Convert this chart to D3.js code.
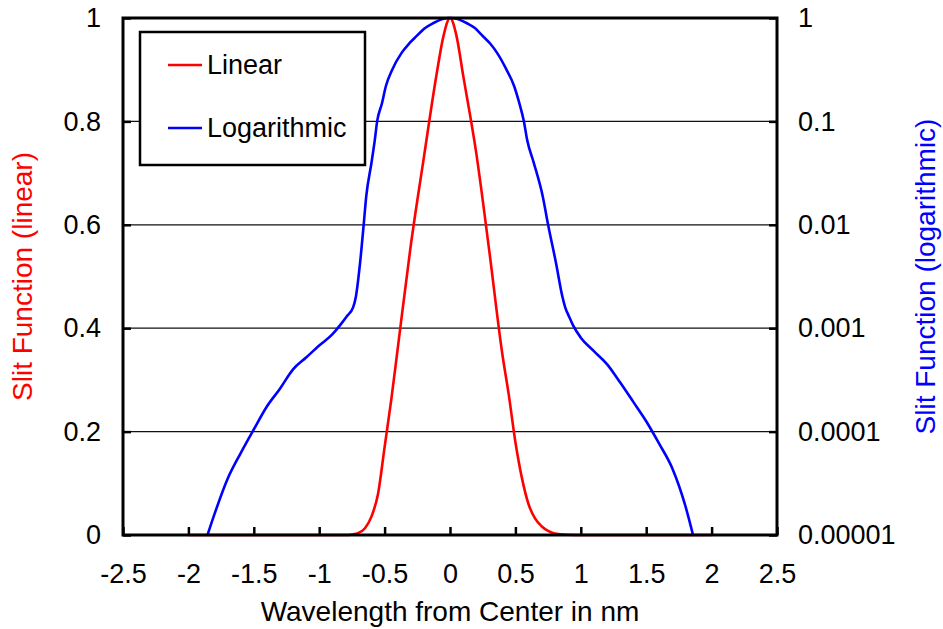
<!DOCTYPE html>
<html>
<head>
<meta charset="utf-8">
<script src="https://cdn.jsdelivr.net/npm/d3@7"></script>
<style>
  body { margin: 0; background: #fff; }
  svg text { font-family: "Liberation Sans", Arial, sans-serif; }
</style>
</head>
<body>
<div id="chart"></div>
<script>
// slit function, linear curve (red)
var linX = [-2, -1, -0.8, -0.75, -0.7, -0.65, -0.6, -0.55, -0.5, -0.45, -0.4, -0.3, -0.2, -0.1, -0.05, 0,
            0.05, 0.1, 0.2, 0.3, 0.4, 0.45, 0.5, 0.55, 0.6, 0.65, 0.7, 0.75, 0.8, 0.9, 1, 2];
var linY = [0, 0, 0, 0.001, 0.004, 0.013, 0.036, 0.08, 0.17, 0.26, 0.36, 0.56, 0.73, 0.895, 0.965, 1,
            0.965, 0.89, 0.74, 0.55, 0.35, 0.27, 0.18, 0.11, 0.06, 0.032, 0.017, 0.008, 0.003, 0.0005, 0, 0];

// slit function, logarithmic curve (blue)
var logX = [-1.854, -1.8, -1.7, -1.6, -1.5, -1.4, -1.3, -1.2, -1.1, -1.0, -0.9, -0.84, -0.79, -0.74, -0.72,
            -0.69, -0.66, -0.64, -0.6, -0.575, -0.557, -0.52, -0.49, -0.44, -0.37, -0.31, -0.26, -0.19, -0.13, -0.065, 0,
            0.065, 0.13, 0.19, 0.25, 0.31, 0.36, 0.43, 0.49, 0.53, 0.565, 0.59, 0.64, 0.71, 0.75, 0.81, 0.86, 0.88, 0.91, 0.94,
            1.0, 1.1, 1.2, 1.3, 1.4, 1.5, 1.6, 1.7, 1.8, 1.858];
var logY = [1e-5, 1.6e-5, 3.5e-5, 6.2e-5, 1.05e-4, 1.75e-4, 2.6e-4, 4.0e-4, 5.2e-4, 6.8e-4, 8.7e-4, 1.07e-3, 1.3e-3, 1.6e-3, 2.0e-3,
            4.0e-3, 1.0e-2, 1.9e-2, 4.0e-2, 6.6e-2, 0.10, 0.15, 0.22, 0.32, 0.46, 0.57, 0.66, 0.80, 0.89, 0.97, 1.0,
            0.97, 0.89, 0.80, 0.67, 0.56, 0.46, 0.32, 0.22, 0.15, 0.10, 0.066, 0.040, 0.0186, 0.010, 0.0043, 0.0020, 0.0016, 0.0013, 0.00107,
            8.1e-4, 6.0e-4, 4.5e-4, 3.0e-4, 1.95e-4, 1.26e-4, 7.6e-5, 4.4e-5, 1.9e-5, 1e-5];

var xTicks = [-2.5, -2, -1.5, -1, -0.5, 0, 0.5, 1, 1.5, 2, 2.5];
var yLinTicks = [0, 0.2, 0.4, 0.6, 0.8, 1];
var yLogTicks = [1e-5, 1e-4, 1e-3, 1e-2, 1e-1, 1];

var W = 943, H = 629;
var margin = {top: 18, right: 166, bottom: 94, left: 123};
var w = W - margin.left - margin.right;
var h = H - margin.top - margin.bottom;

var svg = d3.select("#chart").append("svg")
	.attr("width", W)
	.attr("height", H);

var g = svg.append("g")
	.attr("transform", "translate(" + margin.left + "," + margin.top + ")");

var x = d3.scaleLinear().domain([-2.5, 2.5]).range([0, w]);
var yLin = d3.scaleLinear().domain([0, 1]).range([h, 0]);
var yLog = d3.scaleLog().domain([1e-5, 1]).range([h, 0]);

// gridlines
g.selectAll("line.grid").data(yLinTicks.slice(1, -1)).enter().append("line")
	.attr("class", "grid")
	.attr("x1", 0).attr("x2", w)
	.attr("y1", function(d){ return yLin(d) })
	.attr("y2", function(d){ return yLin(d) })
	.attr("stroke", "#111")
	.attr("stroke-width", 1.2);

// axes (ticks point inward)
function styleAxis(sel) {
	sel.select(".domain").remove();
	sel.selectAll(".tick line").attr("stroke", "#000").attr("stroke-width", 2.5);
	sel.selectAll(".tick text").attr("fill", "#000").style("font-size", "27px");
}

g.append("g")
	.attr("transform", "translate(0," + h + ")")
	.call(d3.axisBottom(x).tickValues(xTicks).tickSize(-8).tickPadding(29)
		.tickFormat(function(d){ return String(d) }))
	.call(styleAxis);

g.append("g")
	.call(d3.axisLeft(yLin).tickValues(yLinTicks).tickSize(-8).tickPadding(22)
		.tickFormat(function(d){ return String(d) }))
	.call(styleAxis);

g.append("g")
	.attr("transform", "translate(" + w + ",0)")
	.call(d3.axisRight(yLog).tickValues(yLogTicks).tickSize(-8).tickPadding(21)
		.tickFormat(d3.format("~f")))
	.call(styleAxis);

// curves
var linLine = d3.line()
	.x(function(d, i){ return x(linX[i]) })
	.y(function(d){ return yLin(d) })
	.curve(d3.curveMonotoneX);

var logLine = d3.line()
	.x(function(d, i){ return x(logX[i]) })
	.y(function(d){ return yLog(d) })
	.curve(d3.curveMonotoneX);

g.append("path").datum(linY)
	.attr("d", linLine)
	.attr("fill", "none")
	.attr("stroke", "#ff0000")
	.attr("stroke-width", 2.6);

g.append("path").datum(logY)
	.attr("d", logLine)
	.attr("fill", "none")
	.attr("stroke", "#0000ff")
	.attr("stroke-width", 2.6);

// frame
g.append("rect")
	.attr("width", w).attr("height", h)
	.attr("fill", "none")
	.attr("stroke", "#000")
	.attr("stroke-width", 3);

// legend
var legend = g.append("g").attr("transform", "translate(17,14)");
legend.append("rect")
	.attr("width", 225).attr("height", 133)
	.attr("fill", "#fff")
	.attr("stroke", "#000")
	.attr("stroke-width", 2.5);

var legendItems = [{name: "Linear", color: "#ff0000"}, {name: "Logarithmic", color: "#0000ff"}];
var item = legend.selectAll("g.item").data(legendItems).enter().append("g")
	.attr("class", "item")
	.attr("transform", function(d, i){ return "translate(0," + (33 + i * 63) + ")" });
item.append("line")
	.attr("x1", 28).attr("x2", 62)
	.attr("stroke", function(d){ return d.color })
	.attr("stroke-width", 2.6);
item.append("text")
	.attr("x", 67).attr("dy", "0.35em")
	.style("font-size", "27px")
	.text(function(d){ return d.name });

// axis titles
svg.append("text")
	.attr("x", margin.left + w / 2).attr("y", 621)
	.attr("text-anchor", "middle")
	.style("font-size", "28px")
	.text("Wavelength from Center in nm");

svg.append("text")
	.attr("transform", "translate(32," + (margin.top + h / 2) + ") rotate(-90)")
	.attr("text-anchor", "middle")
	.attr("fill", "#ff0000")
	.style("font-size", "28px")
	.text("Slit Function (linear)");

svg.append("text")
	.attr("transform", "translate(935," + (margin.top + h / 2) + ") rotate(-90)")
	.attr("text-anchor", "middle")
	.attr("fill", "#0000ff")
	.style("font-size", "28px")
	.text("Slit Function (logarithmic)");
</script>
</body>
</html>
